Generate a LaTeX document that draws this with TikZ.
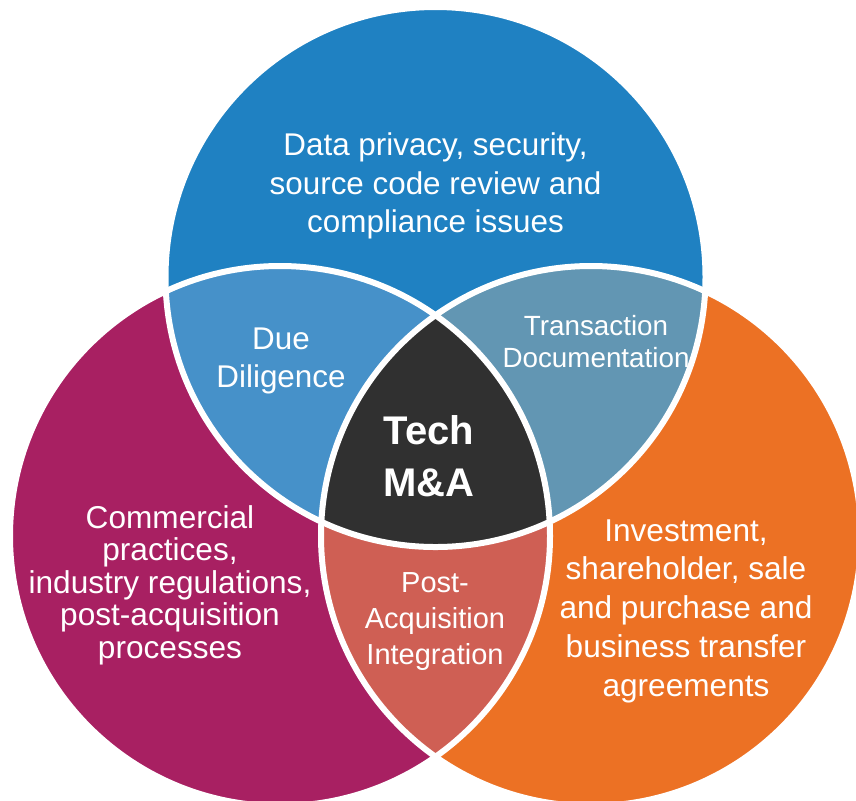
\documentclass[tikz,border=0pt]{standalone}
\usepackage{fontspec}
\setmainfont{Liberation Sans}
\definecolor{topblue}{HTML}{1F81C2}
\definecolor{leftmag}{HTML}{A82062}
\definecolor{rightorange}{HTML}{EC7124}
\definecolor{duecol}{HTML}{4691C9}
\definecolor{transcol}{HTML}{6296B3}
\definecolor{postcol}{HTML}{CF5F54}
\definecolor{techdark}{HTML}{303030}
\tikzset{
    venntext/.style = {text=white, align=center, font=\fontsize{15.7}{19.2}\selectfont},
    ring/.style = {white, line width=3pt}
}
\begin{document}
\begin{tikzpicture}[x=0.5pt, y=-0.5pt]
        \useasboundingbox (0,0) rectangle (856,800);
        \coordinate (ctop) at (435.5,277);
        \coordinate (cleft) at (280,536);
        \coordinate (cright) at (591,536);
        \fill[topblue] (ctop) circle[radius=135pt];
        \fill[leftmag] (cleft) circle[radius=135pt];
        \fill[rightorange] (cright) circle[radius=135pt];
        \begin{scope}
            \clip (cleft) circle[radius=135pt];
            \fill[postcol] (cright) circle[radius=135pt];
        \end{scope}
        \begin{scope}
            \clip (ctop) circle[radius=135pt];
            \fill[duecol] (cleft) circle[radius=135pt];
            \fill[transcol] (cright) circle[radius=135pt];
            \clip (cleft) circle[radius=135pt];
            \fill[techdark] (cright) circle[radius=135pt];
        \end{scope}
        \foreach \c in {ctop,cleft,cright} {
            \draw[ring] (\c) circle[radius=135pt];
        }
        \node[venntext] (privacy) at (435.5,186) {Data privacy, security,\\source code review and\\compliance issues};
        \node[venntext] (due) at (281,361) {Due\\Diligence};
        \node[venntext, font=\fontsize{13.9}{16}\selectfont] (trans) at (596,342) {Transaction\\Documentation};
        \node[venntext, font=\fontsize{20}{26}\selectfont\bfseries] (tech) at (429,456) {Tech\\M\&A};
        \node[venntext, font=\fontsize{15.8}{16.25}\selectfont] (commercial) at (170,585) {Commercial\\practices,\\industry regulations,\\post-acquisition\\processes};
        \node[venntext, font=\fontsize{15.8}{19.35}\selectfont] (investment) at (686,611) {Investment,\\shareholder, sale\\and purchase and\\business transfer\\agreements};
        \node[venntext, font=\fontsize{14.5}{18}\selectfont] (postacq) at (435,622) {Post-\\Acquisition\\Integration};
    \end{tikzpicture}
\end{document}
